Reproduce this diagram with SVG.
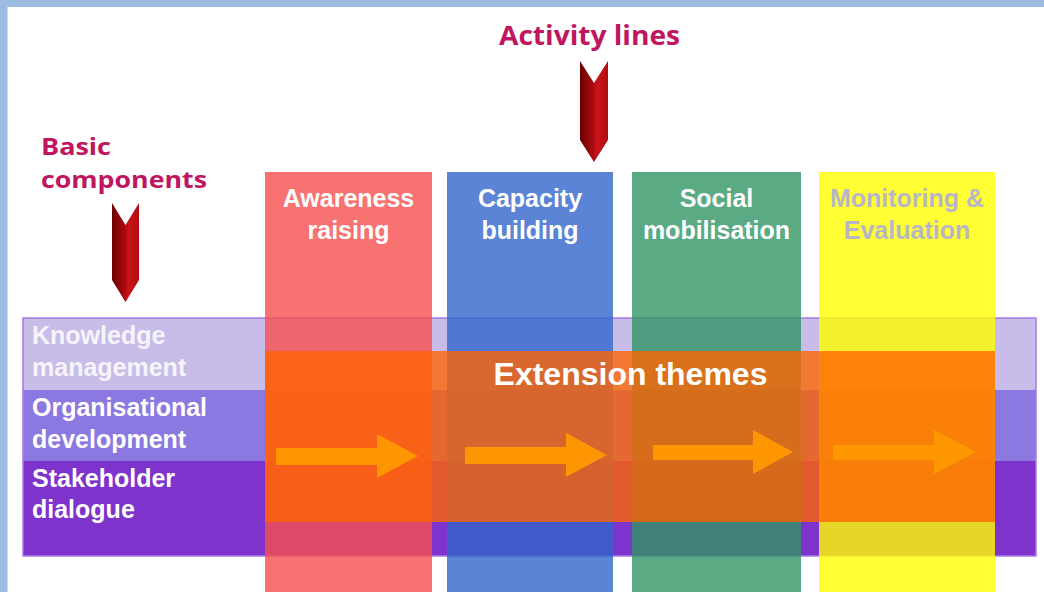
<svg xmlns="http://www.w3.org/2000/svg" width="1044" height="592" viewBox="0 0 1044 592">
<defs>
<style>
.col{opacity:0.8}
.ct{font-family:"Liberation Sans",Arial,sans-serif;font-weight:bold;font-size:25px;fill:#ffffff;text-anchor:middle}
.rt{font-family:"Liberation Sans",Arial,sans-serif;font-weight:bold;font-size:25px;fill:#ffffff}
.title{font-family:"Open Sans","Lato",sans-serif;font-weight:bold;font-size:26px;fill:#c0155f}
.title2{font-family:"Open Sans","Lato",sans-serif;font-weight:bold;font-size:24px;fill:#c0155f}
.arr{fill:#ff9900;opacity:0.95}
</style>
<linearGradient id="chev" x1="0" y1="0" x2="1" y2="0">
<stop offset="0" stop-color="#6a0000"/>
<stop offset="0.5" stop-color="#b00b10"/>
<stop offset="0.6" stop-color="#c8141a"/>
<stop offset="1" stop-color="#b30c12"/>
</linearGradient>
</defs>
<rect x="0" y="0" width="1044" height="592" fill="#ffffff"/>
<rect x="0" y="0" width="1044" height="7" fill="#9cbde1"/>
<rect x="0" y="0" width="7.5" height="592" fill="#9cbde1"/>

<g id="basic-components-band">
<rect x="23" y="318" width="1013" height="72" fill="#c8bde8"/>
<rect x="23" y="390" width="1013" height="71" fill="#8b78e0"/>
<rect x="23" y="461" width="1013" height="95" fill="#7d33cc"/>
<rect x="23" y="318" width="1013" height="238" fill="none" stroke="#a77be6" stroke-width="1.5"/>
</g>

<g id="col-awareness">
<rect class="col" x="265" y="172" width="167" height="420" fill="#f64f4f"/>
</g>
<g id="col-capacity">
<rect class="col" x="447" y="172" width="166" height="420" fill="#3265cc"/>
</g>
<g id="col-social">
<rect class="col" x="632" y="172" width="169" height="420" fill="#319565"/>
</g>
<g id="col-monitoring">
<rect class="col" x="819" y="172" width="176" height="420" fill="#ffff00"/>
</g>

<g id="extension-themes">
<rect x="265" y="351" width="730" height="171" fill="#ff6400" opacity="0.78"/>
</g>

<g id="connectors">
<polygon class="arr" points="276,448 377,448 377,434 418,456 377,478 377,465 276,465"/>
<polygon class="arr" points="465,447 566,447 566,433 607,455 566,477 566,464 465,464"/>
<polygon class="arr" points="653,445 753,445 753,430 793,452 753,474 753,460 653,460"/>
<polygon class="arr" points="833,445 934,445 934,430 976,452 934,474 934,460 833,460"/>
<polygon fill="url(#chev)" points="112,203 125.5,225 139,203 139,280 125.5,302 112,280"/>
<polygon fill="url(#chev)" points="580,61 594,83 608,61 608,140 594,162 580,140"/>
</g>

<g id="labels">
<text class="title" x="499" y="45" textLength="181" lengthAdjust="spacingAndGlyphs">Activity lines</text>
<text class="title2" x="41" y="155" textLength="70" lengthAdjust="spacingAndGlyphs">Basic</text>
<text class="title2" x="41" y="188" textLength="166" lengthAdjust="spacingAndGlyphs">components</text>

<text class="ct" x="348.5" y="207">Awareness</text>
<text class="ct" x="348.5" y="239">raising</text>
<text class="ct" x="530" y="207">Capacity</text>
<text class="ct" x="530" y="239">building</text>
<text class="ct" x="716.5" y="207">Social</text>
<text class="ct" x="716.5" y="239">mobilisation</text>
<text class="ct" x="907" y="207" style="fill:#b6b6c6">Monitoring &amp;</text>
<text class="ct" x="907" y="239" style="fill:#b6b6c6">Evaluation</text>

<text class="rt" x="32" y="344" style="fill:#f6f4fb">Knowledge</text>
<text class="rt" x="32" y="376" style="fill:#f6f4fb">management</text>
<text class="rt" x="32" y="416">Organisational</text>
<text class="rt" x="32" y="448">development</text>
<text class="rt" x="32" y="487">Stakeholder</text>
<text class="rt" x="32" y="518">dialogue</text>

<text x="630.5" y="385" text-anchor="middle" style="font-family:'Liberation Sans',Arial,sans-serif;font-weight:bold;font-size:32px;fill:#ffffff">Extension themes</text>
</g>
</svg>
